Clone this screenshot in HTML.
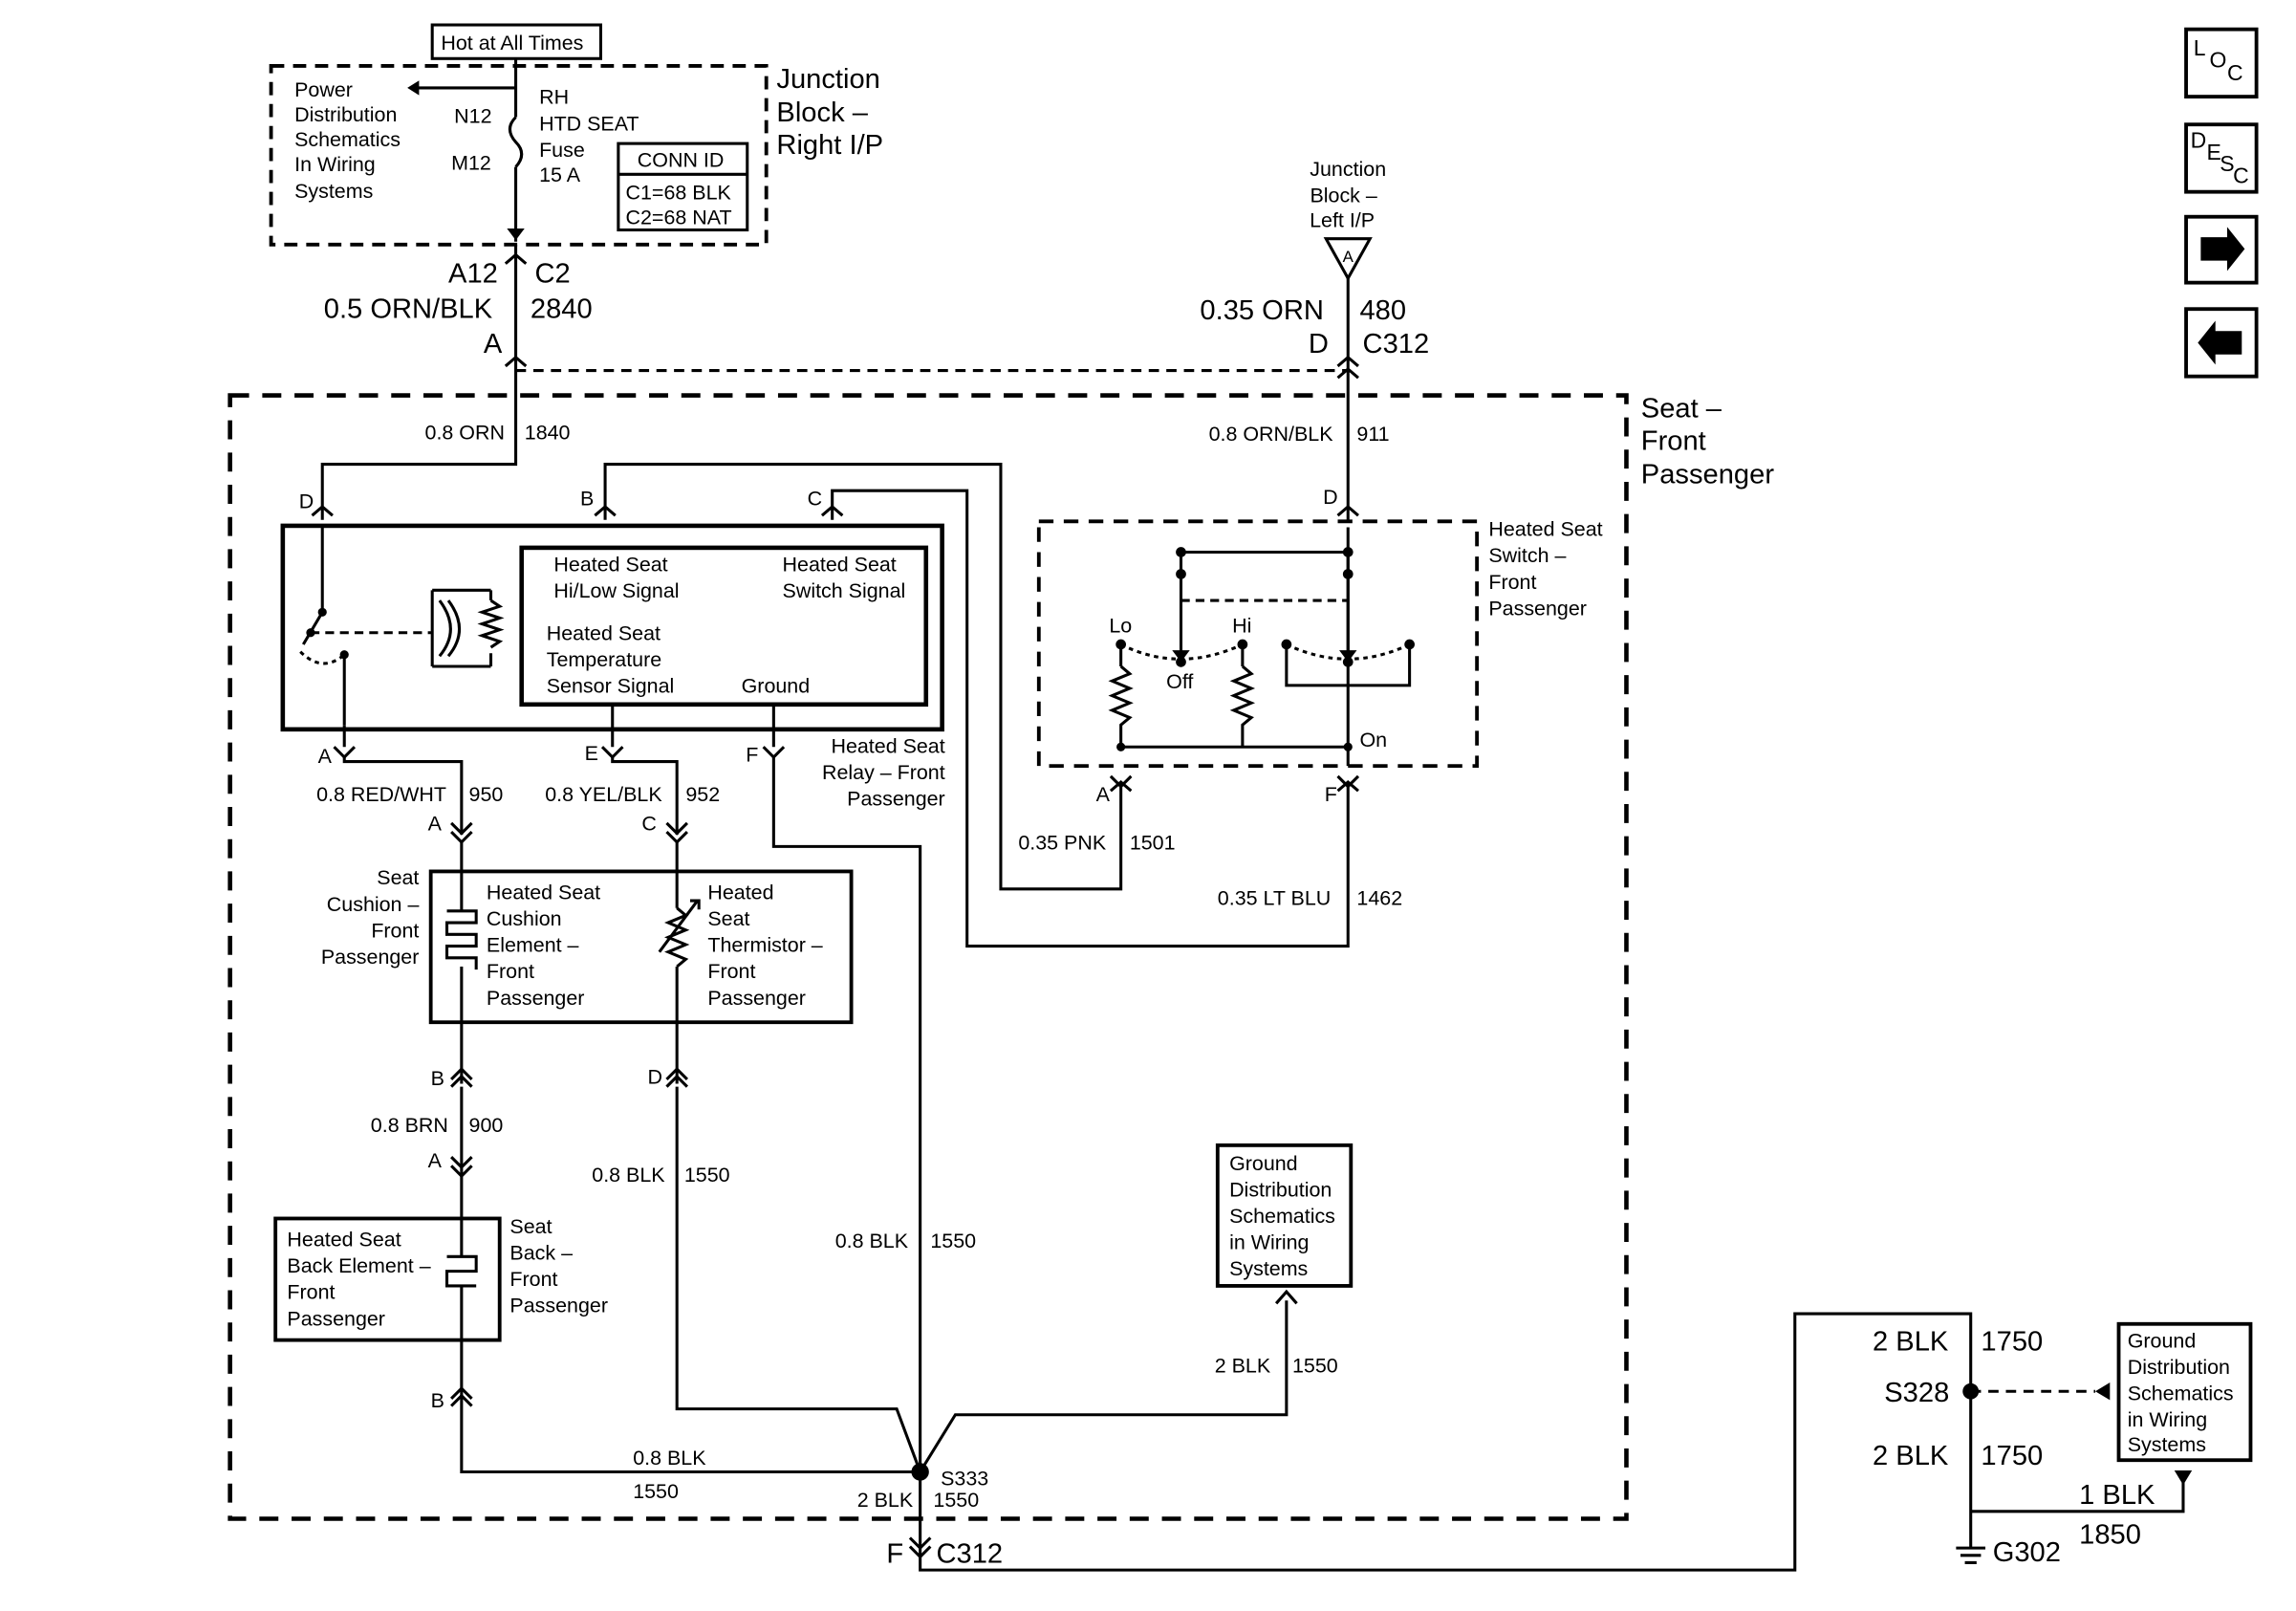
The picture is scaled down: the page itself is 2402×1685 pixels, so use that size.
<!DOCTYPE html>
<html><head><meta charset="utf-8"><style>
html,body{margin:0;padding:0;background:#fff}
svg{display:block}
text{font-family:"Liberation Sans",sans-serif;fill:#000}
.s{font-size:14px}.m{font-size:19px}
</style></head><body>
<svg width="2402" height="1685" viewBox="0 0 1567 1100" preserveAspectRatio="none" xmlns="http://www.w3.org/2000/svg">
<g fill="none" stroke="#000" stroke-width="2">
<rect x="295" y="17" width="115" height="23"/>
<rect x="185" y="45" width="338" height="122" stroke-dasharray="9,6" stroke-width="2.5"/>
<path d="M352 40V80 M352 114V165 M352 80 q-8 8 0 17 q8 8 0 17"/>
<path d="M352 60H282"/>
<rect x="422" y="98" width="88" height="59"/>
<path d="M422 119H510"/>
<path d="M352 167V253 M345 180l7 -6l7 6 M345 250l7 -6l7 6"/>
<path d="M352 253H920" stroke-dasharray="7,5"/>
<path d="M905 163H935L920 190Z"/>
<path d="M920 190V355 M913 250l7 -6l7 6 M913 258l7 -6l7 6"/>
<rect x="157" y="270" width="953" height="767" stroke-dasharray="13,9" stroke-width="3"/>
<path d="M352 253V317H220V355 M213 352l7 -6l7 6"/>
<path d="M413 355V317H683V607H765V535 M406 352l7 -6l7 6 M758 540l7 -6l7 6"/>
<path d="M568 355V335H660V646H920V535 M561 352l7 -6l7 6 M913 540l7 -6l7 6"/>
<path d="M913 352l7 -6l7 6"/>
<rect x="193" y="359" width="450" height="139" stroke-width="3"/>
<rect x="356" y="374" width="276" height="107" stroke-width="3"/>
<path d="M220 360V418 M220 418L207 440" />
<path d="M212 432H295" stroke-dasharray="6,4"/>
<path d="M205 445 q15 15 30 2" stroke-dasharray="3,3"/>
<path d="M235 447V495"/>
<path d="M295 403V455 M295 403H335 M295 455H335 M335 410l6 4l-12 4l12 4l-12 4l12 4l-12 4l12 4l-6 4 M335 410V403 M335 446V455"/>
<path d="M300 410 q15 20 0 38 M306 410 q15 20 0 38"/>
<path d="M235 495V510 M418 481V510 M528 481V510"/>
<path d="M228 510l7 7l7 -7 M411 510l7 7l7 -7 M521 510l7 7l7 -7"/>
<path d="M235 517V520H315V570 M308 562l7 7l7 -7 M308 568l7 7l7 -7"/>
<path d="M418 517V520H462V570 M455 562l7 7l7 -7 M455 568l7 7l7 -7"/>
<path d="M528 517V578H628V1005"/>
<rect x="294" y="595" width="287" height="103" stroke-width="2.5"/>
<path d="M315 575V622 M315 660V740 M305 622h20v8h-20v8h20v8h-20v8h20v8"/>
<path d="M462 575V620 M462 660V740 M462 620l6 5l-12 5l12 5l-12 5l12 5l-12 5l12 5l-6 5 M450 650l26 -35 M471 615h6v6"/>
<path d="M308 737l7 -7l7 7 M308 742l7 -7l7 7 M455 737l7 -7l7 7 M455 742l7 -7l7 7"/>
<path d="M308 790l7 7l7 -7 M308 796l7 7l7 -7"/>
<rect x="188" y="832" width="153" height="83" stroke-width="2.5"/>
<path d="M315 742V858 M315 878V960 M305 858h20v10h-20v10h20"/>
<path d="M308 955l7 -7l7 7 M308 960l7 -7l7 7"/>
<path d="M315 960V1005H628"/>
<path d="M462 742V962H612L628 1005"/>
<path d="M628 1005L652 966H878V888 M871 890l7 -8l7 8"/>
<rect x="831" y="782" width="91" height="96" stroke-width="2.5"/>
<path d="M628 1005V1072H1225V897H1345V1057"/>
<path d="M621 1050l7 7l7 -7 M621 1056l7 7l7 -7"/>
<path d="M1345 950H1430" stroke-dasharray="7,5"/>
<rect x="1446" y="904" width="90" height="93" stroke-width="2.5"/>
<path d="M1345 1032H1490V1012"/>
<path d="M1335 1057H1355 M1338 1062H1352 M1341 1067H1349"/>
<rect x="709" y="356" width="299" height="167" stroke-dasharray="10,7" stroke-width="2.5"/>
<path d="M920 360V523 M806 377H920 M806 377V450" />
<path d="M806 410H920" stroke-dasharray="6,4"/>
<path d="M920 377V452 M878 440V468H962V440 M765 440V455 M848 440V455"/>
<path d="M765 455l6 5l-12 5l12 5l-12 5l12 5l-12 5l12 5l-6 5V510H920 M848 455l6 5l-12 5l12 5l-12 5l12 5l-12 5l12 5l-6 5V510"/>
<path d="M765 440 q40 20 83 0 M878 440 q42 20 84 0" stroke-dasharray="3,3"/>
<path d="M758 530l7 7l7 -7 M913 530l7 7l7 -7"/>
<rect x="1492" y="20" width="48" height="46" stroke-width="2.5"/>
<rect x="1492" y="85" width="48" height="46" stroke-width="2.5"/>
<rect x="1492" y="148" width="48" height="45" stroke-width="2.5"/>
<rect x="1492" y="211" width="48" height="46" stroke-width="2.5"/>
</g>
<g fill="#000">
<path d="M278 60l8 -5v10z"/>
<path d="M346 156l6 8l6 -8z"/>
<path d="M800 444l6 8l6 -8z M914 444l6 8l6 -8z"/>
<circle cx="806" cy="377" r="3.5"/><circle cx="920" cy="377" r="3.5"/><circle cx="920" cy="392" r="3.5"/><circle cx="806" cy="392" r="3.5"/><circle cx="806" cy="452" r="3.5"/><circle cx="920" cy="452" r="3.5"/>
<circle cx="765" cy="440" r="3.5"/><circle cx="848" cy="440" r="3.5"/><circle cx="878" cy="440" r="3.5"/><circle cx="962" cy="440" r="3.5"/>
<circle cx="765" cy="510" r="3"/><circle cx="920" cy="510" r="3"/>
<circle cx="220" cy="418" r="3"/><circle cx="235" cy="447" r="3"/><circle cx="212" cy="432" r="3"/>
<circle cx="628" cy="1005" r="6"/><circle cx="1345" cy="950" r="5.5"/>
<path d="M1440 944v12l-10 -6z"/>
<path d="M1484 1004h12l-6 10z"/>
<path d="M1502 162h18v-7l12 15l-12 15v-7h-18z"/>
<path d="M1530 226h-18v-7l-12 15l12 15v-7h18z"/>
</g>
<g class="s">
<text x="301" y="34">Hot at All Times</text>
<text x="201" y="66">Power</text><text x="201" y="83">Distribution</text><text x="201" y="100">Schematics</text><text x="201" y="117">In Wiring</text><text x="201" y="135">Systems</text>
<text x="310" y="84">N12</text><text x="308" y="116">M12</text>
<text x="368" y="71">RH</text><text x="368" y="89">HTD SEAT</text><text x="368" y="107">Fuse</text><text x="368" y="124">15 A</text>
<text x="435" y="114">CONN ID</text><text x="427" y="136">C1=68 BLK</text><text x="427" y="153">C2=68 NAT</text>
<text x="920" y="120" text-anchor="middle">Junction</text><text x="917" y="138" text-anchor="middle">Block –</text><text x="916" y="155" text-anchor="middle">Left I/P</text>
<text x="920" y="179" text-anchor="middle" font-size="11">A</text>
<text x="290" y="300">0.8 ORN</text><text x="358" y="300">1840</text>
<text x="825" y="301">0.8 ORN/BLK</text><text x="926" y="301">911</text>
<text x="204" y="347">D</text><text x="396" y="345">B</text><text x="551" y="345">C</text><text x="903" y="344">D</text>
<text x="378" y="390">Heated Seat</text><text x="378" y="408">Hi/Low Signal</text>
<text x="534" y="390">Heated Seat</text><text x="534" y="408">Switch Signal</text>
<text x="373" y="437">Heated Seat</text><text x="373" y="455">Temperature</text><text x="373" y="473">Sensor Signal</text><text x="506" y="473">Ground</text>
<text x="1016" y="366">Heated Seat</text><text x="1016" y="384">Switch –</text><text x="1016" y="402">Front</text><text x="1016" y="420">Passenger</text>
<text x="757" y="432">Lo</text><text x="841" y="432">Hi</text><text x="796" y="470">Off</text><text x="928" y="510">On</text>
<text x="217" y="521">A</text><text x="399" y="519">E</text><text x="509" y="520">F</text>
<text x="645" y="514" text-anchor="end">Heated Seat</text><text x="645" y="532" text-anchor="end">Relay – Front</text><text x="645" y="550" text-anchor="end">Passenger</text>
<text x="748" y="547">A</text><text x="904" y="547">F</text>
<text x="216" y="547">0.8 RED/WHT</text><text x="320" y="547">950</text>
<text x="372" y="547">0.8 YEL/BLK</text><text x="468" y="547">952</text>
<text x="292" y="567">A</text><text x="438" y="567">C</text>
<text x="695" y="580">0.35 PNK</text><text x="771" y="580">1501</text>
<text x="831" y="618">0.35 LT BLU</text><text x="926" y="618">1462</text>
<text x="286" y="604" text-anchor="end">Seat</text><text x="286" y="622" text-anchor="end">Cushion –</text><text x="286" y="640" text-anchor="end">Front</text><text x="286" y="658" text-anchor="end">Passenger</text>
<text x="332" y="614">Heated Seat</text><text x="332" y="632">Cushion</text><text x="332" y="650">Element –</text><text x="332" y="668">Front</text><text x="332" y="686">Passenger</text>
<text x="483" y="614">Heated</text><text x="483" y="632">Seat</text><text x="483" y="650">Thermistor –</text><text x="483" y="668">Front</text><text x="483" y="686">Passenger</text>
<text x="294" y="741">B</text><text x="442" y="740">D</text>
<text x="253" y="773">0.8 BRN</text><text x="320" y="773">900</text>
<text x="292" y="797">A</text>
<text x="404" y="807">0.8 BLK</text><text x="467" y="807">1550</text>
<text x="570" y="852">0.8 BLK</text><text x="635" y="852">1550</text>
<text x="196" y="851">Heated Seat</text><text x="196" y="869">Back Element –</text><text x="196" y="887">Front</text><text x="196" y="905">Passenger</text>
<text x="348" y="842">Seat</text><text x="348" y="860">Back –</text><text x="348" y="878">Front</text><text x="348" y="896">Passenger</text>
<text x="294" y="961">B</text>
<text x="839" y="799">Ground</text><text x="839" y="817">Distribution</text><text x="839" y="835">Schematics</text><text x="839" y="853">in Wiring</text><text x="839" y="871">Systems</text>
<text x="829" y="937">2 BLK</text><text x="882" y="937">1550</text>
<text x="432" y="1000">0.8 BLK</text><text x="432" y="1023">1550</text>
<text x="642" y="1014">S333</text>
<text x="585" y="1029">2 BLK</text><text x="637" y="1029">1550</text>
<text x="1452" y="920">Ground</text><text x="1452" y="938">Distribution</text><text x="1452" y="956">Schematics</text><text x="1452" y="974">in Wiring</text><text x="1452" y="991">Systems</text>
</g>
<g class="m">
<text x="530" y="60">Junction</text><text x="530" y="83">Block –</text><text x="530" y="105">Right I/P</text>
<text x="306" y="193">A12</text><text x="365" y="193">C2</text>
<text x="221" y="217">0.5 ORN/BLK</text><text x="362" y="217">2840</text>
<text x="330" y="241">A</text>
<text x="819" y="218">0.35 ORN</text><text x="928" y="218">480</text>
<text x="893" y="241">D</text><text x="930" y="241">C312</text>
<text x="1120" y="285">Seat –</text><text x="1120" y="307">Front</text><text x="1120" y="330">Passenger</text>
<text x="605" y="1067">F</text><text x="639" y="1067">C312</text>
<text x="1278" y="922">2 BLK</text><text x="1352" y="922">1750</text>
<text x="1286" y="957">S328</text>
<text x="1278" y="1000">2 BLK</text><text x="1352" y="1000">1750</text>
<text x="1419" y="1027">1 BLK</text><text x="1419" y="1054">1850</text>
<text x="1360" y="1066">G302</text>
</g>
<g font-size="15">
<text x="1497" y="38">L</text><text x="1508" y="46">O</text><text x="1520" y="55">C</text>
<text x="1495" y="101">D</text><text x="1506" y="109">E</text><text x="1515" y="117">S</text><text x="1524" y="125">C</text>
</g>
</svg>
</body></html>
